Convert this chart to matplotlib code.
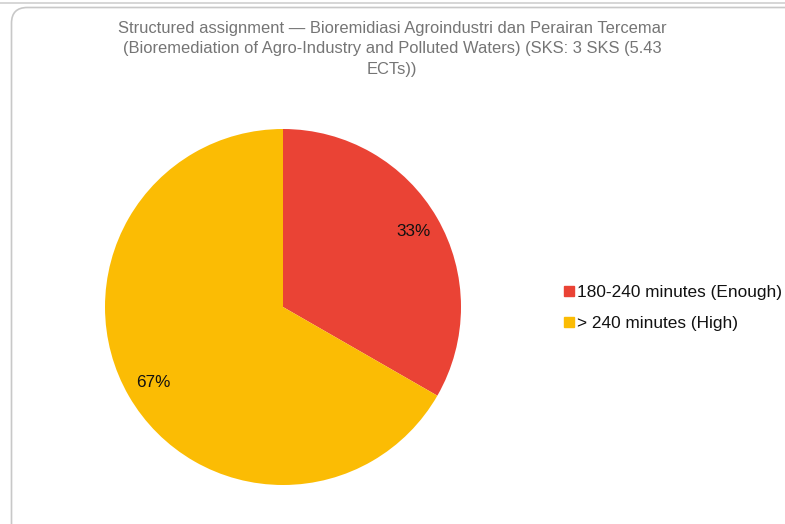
import matplotlib
matplotlib.use("Agg")
import matplotlib.pyplot as plt
from matplotlib.patches import FancyBboxPatch
from matplotlib.lines import Line2D

plt.rcParams['font.family'] = ['Liberation Sans', 'DejaVu Sans']

title = ("Structured assignment \u2014 Bioremidiasi Agroindustri dan Perairan Tercemar\n"
         "(Bioremediation of Agro-Industry and Polluted Waters) (SKS: 3 SKS (5.43\n"
         "ECTs))")
categories = ["180-240 minutes (Enough)", "> 240 minutes (High)"]
shares = [33.3, 66.7]
colors = ["#EA4335", "#FBBC04"]

W, H = 785, 524
fig = plt.figure(figsize=(W / 100, H / 100), dpi=100)

# card frame and the edge of the card above it
fig.add_artist(Line2D([0, 1], [1 - 2.5 / H, 1 - 2.5 / H], transform=fig.transFigure,
                      color="#cfcfcf", lw=1.2, zorder=-2))
card = FancyBboxPatch((11.5 / W, -20 / H), (W + 40) / W, (H + 20 - 7.5) / H,
                      boxstyle="round,pad=0,rounding_size=0.02",
                      transform=fig.transFigure, facecolor="white",
                      edgecolor="#c8c8c8", lw=1.2, mutation_aspect=W / H, zorder=-1)
fig.add_artist(card)

fig.text(392 / W, 1 - 49 / H, title, ha="center", va="center", color="#757575",
         fontsize=11.9, linespacing=1.42)

ax = fig.add_axes([105 / W, (H - 485) / H, 356 / W, 356 / H])
wedges, texts, autotexts = ax.pie(shares, colors=colors, startangle=90, counterclock=False,
                                  autopct="%1.0f%%", pctdistance=0.845, radius=1,
                                  textprops=dict(fontsize=12.3, color="#111111"))
ax.set_xlim(-1, 1)
ax.set_ylim(-1, 1)
ax.set_aspect("equal")

handles = [Line2D([], [], marker="s", linestyle="none", markersize=7,
                  markerfacecolor=c, markeredgecolor=c) for c in colors]
fig.legend(handles, categories, loc="upper left", bbox_to_anchor=(560 / W, 1 - 285 / H),
           frameon=False, fontsize=12.4, handletextpad=0.0, labelspacing=0.9,
           borderaxespad=0, borderpad=0, handlelength=1.0, labelcolor="#111111")

fig.savefig("out.png", dpi=100)
